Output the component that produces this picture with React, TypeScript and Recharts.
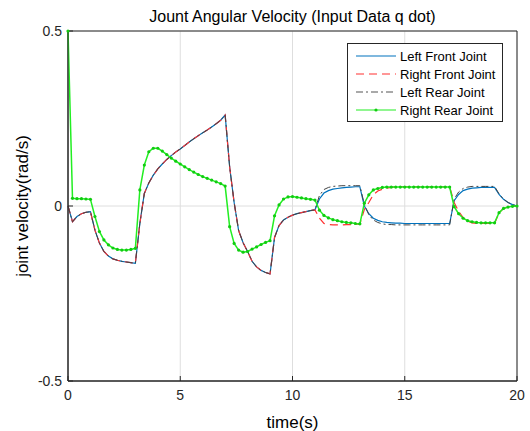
import React from 'react';
import {
  LineChart, Line, XAxis, YAxis, CartesianGrid, ReferenceArea
} from 'recharts';

// sampling grid: 0 .. 20 s, step 0.2 s
const time: number[] = Array.from({ length: 101 }, (_, i) => Math.round(i * 2) / 10);

// left front, right front and left rear share the same trace until t = 11 s
const sharedStart = [
  0, -0.045, -0.03, -0.022, -0.018, -0.016, -0.069, -0.106, -0.13, -0.143,
  -0.151, -0.155, -0.158, -0.16, -0.162, -0.164, -0.05, 0.036, 0.066, 0.088,
  0.106, 0.12, 0.133, 0.144, 0.154, 0.163, 0.173, 0.183, 0.192, 0.201,
  0.209, 0.217, 0.226, 0.235, 0.245, 0.26, 0.112, 0.01, -0.07, -0.105,
  -0.13, -0.158, -0.174, -0.184, -0.19, -0.194, -0.09, -0.056, -0.04, -0.032,
  -0.026, -0.022, -0.019, -0.016, -0.013, -0.011,
];

// t = 11.2 .. 20
const leftFrontTail = [
  0.02, 0.037, 0.044, 0.048, 0.05, 0.052, 0.053, 0.054, 0.055, 0.055,
  0.0, -0.022, -0.035, -0.041, -0.045, -0.047, -0.048, -0.049, -0.049, -0.05,
  -0.05, -0.05, -0.05, -0.05, -0.05, -0.05, -0.05, -0.05, -0.05, -0.05,
  0.015, 0.033, 0.044, 0.048, 0.051, 0.052, 0.053, 0.053, 0.053, 0.053,
  0.033, 0.019, 0.01, 0.004, 0,
];

const rightFrontTail = [
  -0.035, -0.05, -0.053, -0.054, -0.054, -0.054, -0.053, -0.053, -0.052, -0.052,
  -0.01, 0.01, 0.032, 0.043, 0.048, 0.051, 0.053, 0.055, 0.055, 0.055,
  0.055, 0.055, 0.055, 0.055, 0.055, 0.055, 0.055, 0.055, 0.055, 0.055,
  0.01, -0.015, -0.033, -0.043, -0.048, -0.05, -0.05, -0.05, -0.05, -0.05,
  -0.02, -0.007, -0.003, -0.001, 0,
];

const leftRearTail = [
  0.03, 0.047, 0.053, 0.056, 0.057, 0.058, 0.058, 0.058, 0.058, 0.058,
  0.005, -0.025, -0.04, -0.047, -0.051, -0.053, -0.053, -0.054, -0.054, -0.054,
  -0.054, -0.054, -0.054, -0.054, -0.054, -0.054, -0.054, -0.054, -0.054, -0.054,
  0.02, 0.04, 0.05, 0.054, 0.056, 0.056, 0.056, 0.056, 0.056, 0.056,
  0.035, 0.02, 0.01, 0.004, 0,
];

const rightRear = [
  0.5, 0.022, 0.021, 0.021, 0.02, 0.019, -0.03, -0.073, -0.097, -0.111,
  -0.12, -0.124, -0.126, -0.126, -0.124, -0.121, 0.046, 0.117, 0.155, 0.165,
  0.165, 0.157, 0.147, 0.137, 0.128, 0.12, 0.112, 0.104, 0.097, 0.09,
  0.084, 0.079, 0.074, 0.069, 0.064, 0.057, -0.059, -0.107, -0.126, -0.132,
  -0.13, -0.123, -0.117, -0.11, -0.104, -0.099, -0.028, 0.003, 0.02, 0.026,
  0.027, 0.025, 0.023, 0.021, 0.019, 0.017, -0.012, -0.027, -0.034, -0.039,
  -0.042, -0.045, -0.047, -0.048, -0.05, -0.051, 0.008, 0.032, 0.046, 0.05,
  0.053, 0.054, 0.054, 0.054, 0.054, 0.054, 0.054, 0.054, 0.054, 0.054,
  0.054, 0.054, 0.054, 0.054, 0.054, 0.054, -0.002, -0.022, -0.035, -0.042,
  -0.045, -0.047, -0.048, -0.048, -0.048, -0.048, -0.019, -0.007, -0.003, -0.001,
  0,
];

const leftFront = [...sharedStart, ...leftFrontTail];
const rightFront = [...sharedStart, ...rightFrontTail];
const leftRear = [...sharedStart, ...leftRearTail];

const xTicks = [0, 5, 10, 15, 20];
const yTicks = [-0.5, 0, 0.5];

const data = time.map((t, i) => ({
  t,
  lf: leftFront[i],
  rf: rightFront[i],
  lr: leftRear[i],
  rr: rightRear[i],
}));

const FONT = '"Liberation Sans", Arial, sans-serif';
const INK = '#262626';

const legendItems = [
  { name: 'Left Front Joint', color: '#0072BD', dash: undefined as string | undefined, dot: false },
  { name: 'Right Front Joint', color: '#ff3030', dash: '8 5', dot: false },
  { name: 'Left Rear Joint', color: '#555555', dash: '7 3 2 3', dot: false },
  { name: 'Right Rear Joint', color: '#22ee22', dash: undefined, dot: true },
];

function LegendBox() {
  return (
    <div
      style={{
        position: 'absolute',
        left: 347,
        top: 43,
        width: 154,
        border: '1px solid #262626',
        background: '#fff',
        padding: '3px 0 2px 0',
        fontFamily: FONT,
        fontSize: 13,
        color: '#000',
      }}
    >
      {legendItems.map((it) => (
        <div key={it.name} style={{ display: 'flex', alignItems: 'center', height: 18 }}>
          <svg width={52} height={10} style={{ marginLeft: 6 }}>
            <line x1={2} y1={5} x2={42} y2={5} stroke={it.color} strokeWidth={1.2} strokeDasharray={it.dash} />
            {it.dot && <circle cx={22} cy={5} r={1.6} fill="#11cc11" />}
          </svg>
          <span style={{ marginLeft: -6 }}>{it.name}</span>
        </div>
      ))}
    </div>
  );
}

export default function App() {
  return (
    <div style={{ position: 'absolute', left: 0, top: 0, width: 530, height: 431, background: '#fff' }}>
      <div
        style={{
          position: 'absolute', left: 68, width: 449, top: 7, textAlign: 'center',
          fontFamily: FONT, fontSize: 16, lineHeight: '19px', color: '#000',
        }}
      >
        Jount Angular Velocity (Input Data q dot)
      </div>
      <LineChart
        width={530}
        height={431}
        data={data}
        margin={{ top: 31, right: 13, bottom: 0, left: 0 }}
        style={{ fontFamily: FONT }}
      >
        <CartesianGrid stroke="#dedede" strokeWidth={1} />
        <XAxis
          dataKey="t"
          type="number"
          domain={[0, 20]}
          ticks={xTicks}
          height={50}
          tickSize={-5}
          tickMargin={14}
          stroke={INK}
          tick={{ fill: INK, fontSize: 14 }}
          label={{ value: 'time(s)', position: 'insideBottom', offset: 3, fill: '#000', fontSize: 17 }}
        />
        <XAxis
          xAxisId="top"
          orientation="top"
          dataKey="t"
          type="number"
          domain={[0, 20]}
          ticks={xTicks}
          height={0}
          tickSize={-5}
          tick={false}
          stroke={INK}
        />
        <YAxis
          type="number"
          domain={[-0.5, 0.5]}
          ticks={yTicks}
          width={68}
          tickSize={-5}
          tickMargin={11}
          stroke={INK}
          tick={{ fill: INK, fontSize: 14 }}
          tickFormatter={(v: number) => String(v)}
          label={{ value: 'joint velocity(rad/s)', angle: -90, position: 'insideLeft', offset: 22, fill: '#000', fontSize: 17, style: { textAnchor: 'middle' } }}
        />
        <YAxis
          yAxisId="right"
          orientation="right"
          type="number"
          domain={[-0.5, 0.5]}
          ticks={yTicks}
          width={0}
          tickSize={-5}
          tick={false}
          stroke={INK}
        />
        <ReferenceArea x1={0} x2={20} y1={-0.5} y2={0.5} fill="none" stroke={INK} strokeWidth={1} ifOverflow="visible" />
        <Line type="linear" dataKey="lf" stroke="#0072BD" strokeWidth={1.2} dot={false} isAnimationActive={false} />
        <Line type="linear" dataKey="rf" stroke="#ff3030" strokeWidth={1.2} strokeDasharray="8 5" dot={false} isAnimationActive={false} />
        <Line type="linear" dataKey="lr" stroke="#444444" strokeWidth={1} strokeDasharray="7 3 2 3" dot={false} isAnimationActive={false} />
        <Line
          type="linear"
          dataKey="rr"
          stroke="#22ee22"
          strokeWidth={1.5}
          dot={{ r: 1.6, fill: '#11cc11', stroke: 'none' }}
          isAnimationActive={false}
        />
      </LineChart>
      <LegendBox />
    </div>
  );
}
